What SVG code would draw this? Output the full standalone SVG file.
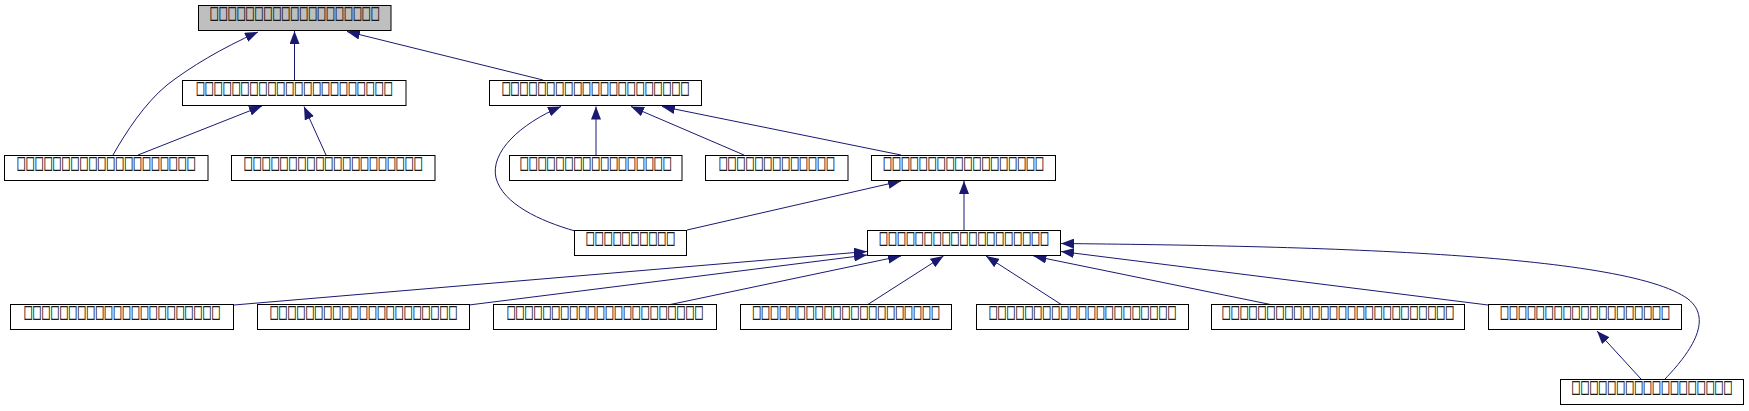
<svg xmlns="http://www.w3.org/2000/svg" width="1749" height="411" viewBox="0 0 1749 411">
<defs>
<style>
.node rect{fill:#ffffff;stroke:#000000;stroke-width:1}
.node.root rect{fill:#bfbfbf}
.node text{font-family:"Noto Sans CJK SC","DejaVu Sans",sans-serif;font-size:9.4px;font-weight:700;text-anchor:middle;fill:#111111;stroke:#111111;stroke-width:0.3}
.edge{fill:none;stroke:#191970;stroke-width:1;marker-end:url(#arr)}
</style>
<marker id="arr" viewBox="0 0 13 10" refX="13" refY="5" markerWidth="13" markerHeight="10" markerUnits="userSpaceOnUse" orient="auto">
<path d="M0,0 L13,5 L0,10 z" fill="#191970"/>
</marker>
</defs>
<rect x="0" y="0" width="1749" height="411" fill="#ffffff"/>
<g id="edges">
<path class="edge" d="M113,155 C126,132 145,103 167,85 C190,67 222,48 258,32"/>
<path class="edge" d="M294.5,80 L294.5,31"/>
<path class="edge" d="M543,80 L347,31.5"/>
<path class="edge" d="M138,155 L262,106"/>
<path class="edge" d="M326,155 L304,106.5"/>
<path class="edge" d="M575,231 C540,221 503,204 496,178 C490,152 520,124 561,106.5"/>
<path class="edge" d="M596,155 L596,106.5"/>
<path class="edge" d="M744,155 L631,106.5"/>
<path class="edge" d="M901,155 L662,106.5"/>
<path class="edge" d="M687,230 L901,181"/>
<path class="edge" d="M964,230 L964,181"/>
<path class="edge" d="M234,305 L867,251.5"/>
<path class="edge" d="M469,305 L867,255"/>
<path class="edge" d="M668,305 L901,256"/>
<path class="edge" d="M867,305 L943.5,256"/>
<path class="edge" d="M1062,305 L986,256"/>
<path class="edge" d="M1273,305 L1033.5,256"/>
<path class="edge" d="M1488,305 L1061,251.5"/>
<path class="edge" d="M1665,379 C1688,355 1715,320 1688,299 C1625,252 1300,246 1061,243.5"/>
<path class="edge" d="M1641,379 L1597,331"/>
</g>
<g id="n-top" class="node root"><rect x="198.5" y="5.5" width="192.5" height="25"/><text transform="translate(294.75,19.5) scale(1,1.7)" textLength="169.9" lengthAdjust="spacingAndGlyphs">□□□□□□□□□□□□□□□□□□□</text></g>
<g id="n2" class="node"><rect x="182.5" y="80.5" width="223.5" height="25"/><text transform="translate(294.25,94.5) scale(1,1.7)" textLength="196.7" lengthAdjust="spacingAndGlyphs">□□□□□□□□□□□□□□□□□□□□□□</text></g>
<g id="n3" class="node"><rect x="489.5" y="80.5" width="212" height="25"/><text transform="translate(595.5,94.5) scale(1,1.7)" textLength="187.7" lengthAdjust="spacingAndGlyphs">□□□□□□□□□□□□□□□□□□□□□</text></g>
<g id="l1" class="node"><rect x="4.5" y="155.5" width="203.5" height="25"/><text transform="translate(106.25,169.5) scale(1,1.7)" textLength="178.8" lengthAdjust="spacingAndGlyphs">□□□□□□□□□□□□□□□□□□□□</text></g>
<g id="l2" class="node"><rect x="231.5" y="155.5" width="203.5" height="25"/><text transform="translate(333.25,169.5) scale(1,1.7)" textLength="178.8" lengthAdjust="spacingAndGlyphs">□□□□□□□□□□□□□□□□□□□□</text></g>
<g id="na" class="node"><rect x="509.5" y="155.5" width="172.5" height="25"/><text transform="translate(595.75,169.5) scale(1,1.7)" textLength="152" lengthAdjust="spacingAndGlyphs">□□□□□□□□□□□□□□□□□</text></g>
<g id="nb" class="node"><rect x="705.5" y="155.5" width="142.5" height="25"/><text transform="translate(776.75,169.5) scale(1,1.7)" textLength="116.2" lengthAdjust="spacingAndGlyphs">□□□□□□□□□□□□□</text></g>
<g id="nc" class="node"><rect x="871.5" y="155.5" width="184" height="25"/><text transform="translate(963.5,169.5) scale(1,1.7)" textLength="160.9" lengthAdjust="spacingAndGlyphs">□□□□□□□□□□□□□□□□□□</text></g>
<g id="nd" class="node"><rect x="574.5" y="230.5" width="112" height="25"/><text transform="translate(630.5,244.5) scale(1,1.7)" textLength="89.4" lengthAdjust="spacingAndGlyphs">□□□□□□□□□□</text></g>
<g id="ne" class="node"><rect x="867.5" y="230.5" width="193" height="25"/><text transform="translate(964,244.5) scale(1,1.7)" textLength="169.9" lengthAdjust="spacingAndGlyphs">□□□□□□□□□□□□□□□□□□□</text></g>
<g id="nf" class="node"><rect x="10.5" y="304.5" width="223" height="25"/><text transform="translate(122,318.5) scale(1,1.7)" textLength="196.7" lengthAdjust="spacingAndGlyphs">□□□□□□□□□□□□□□□□□□□□□□</text></g>
<g id="ng" class="node"><rect x="257.5" y="304.5" width="212" height="25"/><text transform="translate(363.5,318.5) scale(1,1.7)" textLength="187.7" lengthAdjust="spacingAndGlyphs">□□□□□□□□□□□□□□□□□□□□□</text></g>
<g id="nh" class="node"><rect x="493.5" y="304.5" width="223" height="25"/><text transform="translate(605,318.5) scale(1,1.7)" textLength="196.7" lengthAdjust="spacingAndGlyphs">□□□□□□□□□□□□□□□□□□□□□□</text></g>
<g id="ni" class="node"><rect x="740.5" y="304.5" width="211" height="25"/><text transform="translate(846,318.5) scale(1,1.7)" textLength="187.7" lengthAdjust="spacingAndGlyphs">□□□□□□□□□□□□□□□□□□□□□</text></g>
<g id="nj" class="node"><rect x="976.5" y="304.5" width="212" height="25"/><text transform="translate(1082.5,318.5) scale(1,1.7)" textLength="187.7" lengthAdjust="spacingAndGlyphs">□□□□□□□□□□□□□□□□□□□□□</text></g>
<g id="nk" class="node"><rect x="1211.5" y="304.5" width="253" height="25"/><text transform="translate(1338,318.5) scale(1,1.7)" textLength="232.4" lengthAdjust="spacingAndGlyphs">□□□□□□□□□□□□□□□□□□□□□□□□□□</text></g>
<g id="nm" class="node"><rect x="1488.5" y="304.5" width="193" height="25"/><text transform="translate(1585,318.5) scale(1,1.7)" textLength="169.9" lengthAdjust="spacingAndGlyphs">□□□□□□□□□□□□□□□□□□□</text></g>
<g id="nn" class="node"><rect x="1560.5" y="379.5" width="183" height="25"/><text transform="translate(1652,393.5) scale(1,1.7)" textLength="160.9" lengthAdjust="spacingAndGlyphs">□□□□□□□□□□□□□□□□□□</text></g>
</svg>
